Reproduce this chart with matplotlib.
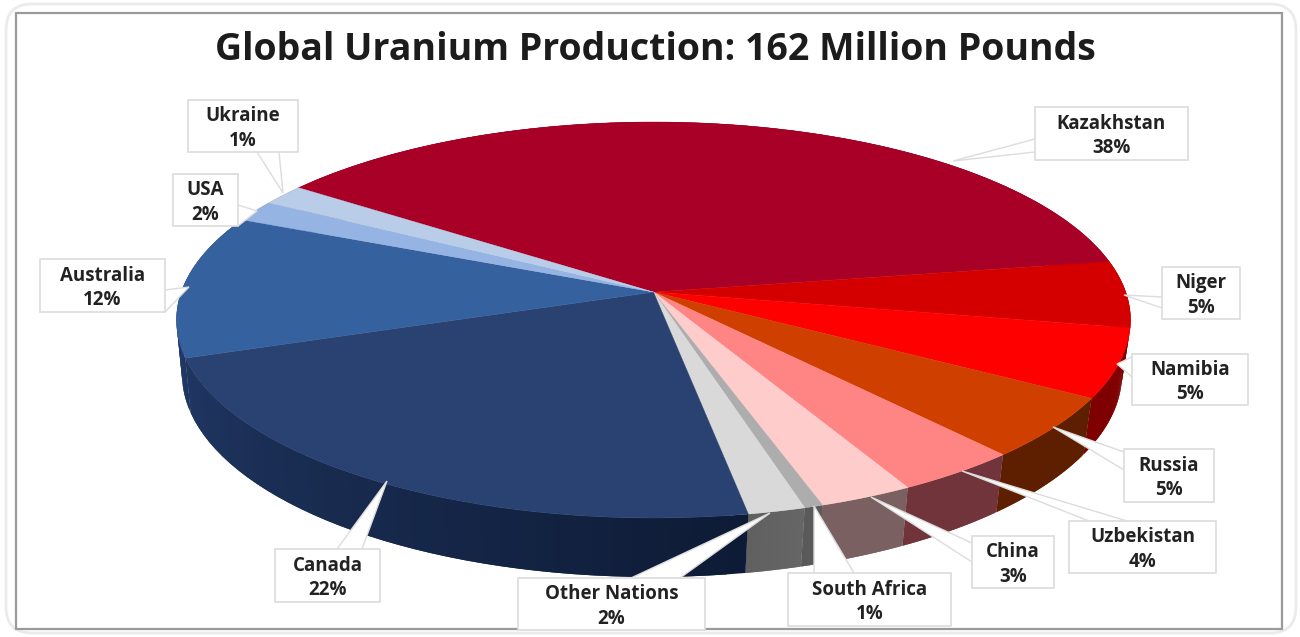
import numpy as np
import matplotlib
matplotlib.use("Agg")
import matplotlib.pyplot as plt
from matplotlib.patches import Polygon, Rectangle, FancyBboxPatch
from matplotlib.colors import to_rgb

plt.rcParams['font.family'] = ['Open Sans', 'DejaVu Sans']

# --- data ---
title = "Global Uranium Production: 162 Million Pounds"
countries = ["Kazakhstan", "Niger", "Namibia", "Russia", "Uzbekistan", "China",
             "South Africa", "Other Nations", "Canada", "Australia", "USA", "Ukraine"]
# rounded numbers printed on the labels
shares = [38, 5, 5, 5, 4, 3, 1, 2, 22, 12, 2, 1]
# slice sizes, the labels are rounded
slice_sizes = [37.6, 5.45, 5.6, 5.0, 3.7, 2.8, 0.55, 1.7, 22.5, 11.7, 1.75, 1.7]
top_colors = ["#a80026", "#d40000", "#ff0000", "#cf4000", "#ff8585", "#ffcccc",
              "#adadad", "#d9d9d9", "#2a4271", "#36619f", "#95b3e3", "#b9cde8"]
side_from = ["#6e0018", "#8b0000", "#7f0000", "#5e1f00", "#70343a", "#7a6060",
             "#555555", "#666666", "#0e1b36", "#1f3661", "#6a80a0", "#8090a8"]
side_to = ["#6e0018", "#8b0000", "#7f0000", "#5e1f00", "#70343a", "#7a6060",
           "#555555", "#606060", "#1f3661", "#223f70", "#6a80a0", "#8090a8"]

# label box (x0, y0, x1, y1) in pixels
boxes = {
    "Kazakhstan": (1035, 107, 1188, 160), "Niger": (1162, 267, 1240, 319),
    "Namibia": (1132, 354, 1248, 405), "Russia": (1124, 449, 1214, 502),
    "Uzbekistan": (1069, 521, 1216, 573), "China": (972, 536, 1054, 588),
    "South Africa": (788, 573, 951, 626), "Other Nations": (518, 578, 705, 630),
    "Canada": (275, 549, 380, 602), "Australia": (40, 259, 165, 312),
    "USA": (173, 174, 238, 226), "Ukraine": (188, 100, 298, 152),
}
# leader wedge: base point, tip on the rim, base point
leaders = {
    "Kazakhstan": [(1035, 139), (953, 161), (1035, 152)],
    "Niger": [(1162, 297), (1124, 295), (1162, 308)],
    "Namibia": [(1138, 354), (1117, 364), (1132, 377)],
    "Russia": [(1124, 452), (1053, 427), (1124, 470)],
    "Uzbekistan": [(1127, 521), (962, 471), (1089, 521)],
    "China": [(972, 543), (871, 497), (972, 562)],
    "South Africa": [(814, 573), (814, 506), (854, 573)],
    "Other Nations": [(631, 578), (770, 513), (680, 578)],
    "Canada": [(337, 549), (387, 481), (362, 549)],
    "Australia": [(165, 290), (189, 287), (165, 312)],
    "USA": [(238, 205), (257, 211), (238, 226)],
    "Ukraine": [(257, 152), (283, 193), (279, 152)],
}

# --- pie geometry ---
cx, cy, rx, ry = 653.5, 320, 477, 198
cx2, cy2, rx2, ry2 = 652, 374, 470, 203
a = 0.141  # perspective shift of the pie centre
start = 144.6


def disc(t):
    # circle angle -> point on the tilted unit disc
    t = np.radians(t)
    s, c = np.sin(t), np.cos(t)
    d = 1 + a * s
    return c * np.sqrt(1 - a * a) / d, (s + a) / d


def rim(t):
    u, v = disc(t)
    return np.column_stack([cx + rx * u, cy - ry * v])


def lower(t):
    u, v = disc(t)
    return np.column_stack([cx2 + rx2 * u, cy2 - ry2 * v])


fig = plt.figure(figsize=(13, 6.37), dpi=100)
ax = fig.add_axes([0, 0, 1, 1])
ax.set_xlim(0, 1300)
ax.set_ylim(637, 0)
ax.axis('off')

# frame
ax.add_patch(FancyBboxPatch((6, 4), 1290, 629, boxstyle="round,pad=0,rounding_size=26",
                            fc='white', ec='#ebebeb', lw=2))
ax.add_patch(Rectangle((16, 13), 1266, 616, fc='white', ec='#9a9a9a', lw=1.6))

edges = start - np.cumsum([0] + slice_sizes) * 3.6

# sides first, the top covers what is hidden
for i in range(len(slice_sizes)):
    ts = np.linspace(edges[i], edges[i + 1], 41)
    c0, c1 = np.array(to_rgb(side_from[i])), np.array(to_rgb(side_to[i]))
    for j in range(40):
        # strips overlap the next one so no seams show
        tt = ts[j:j + 3]
        pts = np.vstack([rim(tt), lower(tt)[::-1]])
        col = c0 + (c1 - c0) * j / 39
        ax.add_patch(Polygon(pts, fc=col, ec='none', zorder=2))

# top
apex = np.array([[cx, cy - ry * a]])
for i in range(len(slice_sizes)):
    ts = np.linspace(edges[i], edges[i + 1], 120)
    pts = np.vstack([apex, rim(ts)])
    ax.add_patch(Polygon(pts, fc=top_colors[i], ec=top_colors[i], lw=0.3, zorder=3))

# callouts
for name, share in zip(countries, shares):
    x0, y0, x1, y1 = boxes[name]
    pts = leaders[name]
    ax.add_patch(Polygon(pts, closed=False, fc='white', ec='#dcdcdc', lw=1.0, zorder=4))
    ax.add_patch(Rectangle((x0, y0), x1 - x0, y1 - y0, fc='white', ec='#dcdcdc', lw=1.2, zorder=5))
    ax.text((x0 + x1) / 2, (y0 + y1) / 2 + 2.5, f"{name}\n{share}%", ha='center', va='center',
            fontsize=13.5, fontweight='bold', color='#222222', linespacing=1.3, zorder=6)

ax.text(655, 50, title, ha='center', va='center', fontsize=27, fontweight='bold', color='#1c1c1c')

fig.savefig("out.png", dpi=100)
